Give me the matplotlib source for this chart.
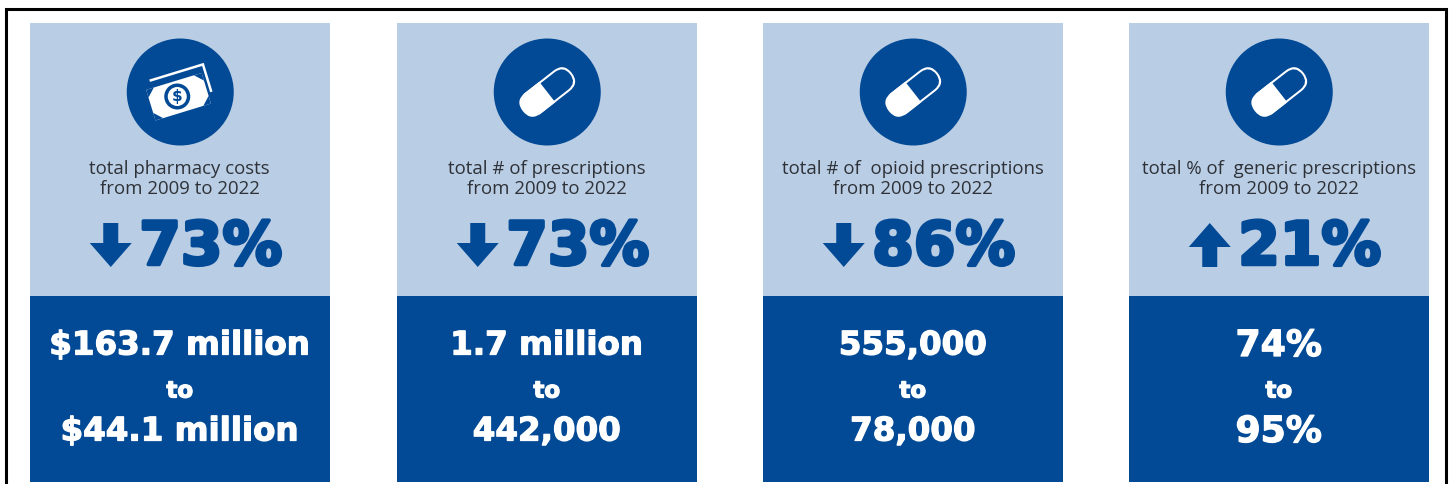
import matplotlib
matplotlib.use('Agg')
import matplotlib.pyplot as plt
import matplotlib.patheffects as pe
from matplotlib.patches import Rectangle, Circle, FancyBboxPatch, Polygon
from matplotlib.transforms import Affine2D

# the four cards, left to right
captions = ['total pharmacy costs\nfrom 2009 to 2022',
            'total # of prescriptions\nfrom 2009 to 2022',
            'total # of  opioid prescriptions\nfrom 2009 to 2022',
            'total % of  generic prescriptions\nfrom 2009 to 2022']
changes = ['73%', '73%', '86%', '21%']
directions = ['down', 'down', 'down', 'up']
icons = ['money', 'pill', 'pill', 'pill']
start_values = ['$163.7 million', '1.7 million', '555,000', '74%']
end_values = ['$44.1 million', '442,000', '78,000', '95%']
value_sizes = [23.4, 23.4, 23.4, 26]

lefts = [30, 397, 763, 1129]
card_w = 299.5

LIGHT = '#b9cde4'
DARK = '#034a96'
GREY = '#2e3238'


def draw_pill(ax, cx, cy):
    rot = Affine2D().rotate_deg_around(cx, cy, -38) + ax.transData
    ax.add_patch(FancyBboxPatch((cx - 31, cy - 13), 62, 26, boxstyle='round,pad=0,rounding_size=13',
                                fc='white', ec='none', transform=rot, zorder=3))
    # upper half is dark, leaves a thin white outline
    ax.add_patch(FancyBboxPatch((cx - 14, cy - 11), 43, 22, boxstyle='round,pad=0,rounding_size=11',
                                fc=DARK, ec='none', transform=rot, zorder=4))
    # white half covers the rounded left end of the dark part
    ax.add_patch(Rectangle((cx - 20, cy - 13), 20, 26, fc='white', ec='none', transform=rot, zorder=5))


def draw_money(ax, cx, cy):
    rot = Affine2D().rotate_deg_around(cx, cy, -17) + ax.transData
    # note behind, shows as two thin white strips
    ax.add_patch(Rectangle((cx - 26, cy - 21), 57, 30, fc='white', ec='none', transform=rot, zorder=3))
    ax.add_patch(Rectangle((cx - 27, cy - 18.5), 55.5, 29, fc=DARK, ec='none', transform=rot, zorder=4))
    # front note
    ax.add_patch(Rectangle((cx - 32, cy - 12), 58, 32, fc='white', ec='none', transform=rot, zorder=6))
    for dx, dy, sx, sy in [(-32, -12, 1, 1), (26, 20, -1, -1), (-32, 20, 1, -1), (26, -12, -1, 1)]:
        ax.add_patch(Polygon([(cx + dx, cy + dy), (cx + dx + sx * 8, cy + dy), (cx + dx, cy + dy + sy * 8)],
                             fc=DARK, ec='none', transform=rot, zorder=7))
    ax.add_patch(Circle((cx - 3, cy + 4.5), 13, fc=DARK, ec='none', zorder=7))
    ax.add_patch(Circle((cx - 3, cy + 4.5), 9.5, fc='white', ec='none', zorder=8))
    ax.text(cx - 3, cy + 5, '$', color=DARK, fontsize=11, fontweight='bold', ha='center',
            va='center', family='DejaVu Sans', zorder=9)


def draw_arrow(ax, cx, cy, direction):
    s = 1 if direction == 'down' else -1
    pts = [(-7.5, -22), (7.5, -22), (7.5, -2), (21, -2), (0, 22), (-21, -2), (-7.5, -2)]
    ax.add_patch(Polygon([(cx + x, cy + s * y) for x, y in pts], fc=DARK, ec='none', zorder=3))


fig = plt.figure(figsize=(14.52, 4.84), dpi=100)
ax = fig.add_axes([0, 0, 1, 1])
ax.set_xlim(0, 1452)
ax.set_ylim(484, 0)
ax.axis('off')

# black frame, open at the bottom
ax.plot([6, 6, 1445.5, 1445.5], [484, 8.5, 8.5, 484], color='black', lw=2.2, solid_joinstyle='miter')

for i, x0 in enumerate(lefts):
    mid = x0 + card_w / 2
    ax.add_patch(Rectangle((x0, 23), card_w, 273, fc=LIGHT, ec='none'))
    ax.add_patch(Rectangle((x0, 296), card_w, 186, fc=DARK, ec='none'))

    ax.add_patch(Circle((mid + 0.5, 92), 53.5, fc=DARK, ec='none', zorder=2))
    if icons[i] == 'money':
        draw_money(ax, mid + 0.5, 92)
    else:
        draw_pill(ax, mid + 0.5, 92)

    ax.text(mid, 179, captions[i], ha='center', va='center', fontsize=13.4, color=GREY,
            family='Open Sans', linespacing=1.18)

    big = ax.text(mid + 31, 248, changes[i], ha='center', va='center', fontsize=43, fontweight='bold',
                  color=DARK, family='DejaVu Sans')
    big.set_path_effects([pe.withStroke(linewidth=2.5, foreground=DARK)])
    # arrow sits just left of the percent
    draw_arrow(ax, mid - 69, 245, directions[i])

    for y, label, size in [(346, start_values[i], value_sizes[i]), (391, 'to', 16.5),
                           (432, end_values[i], value_sizes[i])]:
        t = ax.text(mid, y, label, ha='center', va='center', fontsize=size, fontweight='bold',
                    color='white', family='DejaVu Sans')
        t.set_path_effects([pe.withStroke(linewidth=0.9, foreground='white')])

fig.savefig('out.png', dpi=100)
